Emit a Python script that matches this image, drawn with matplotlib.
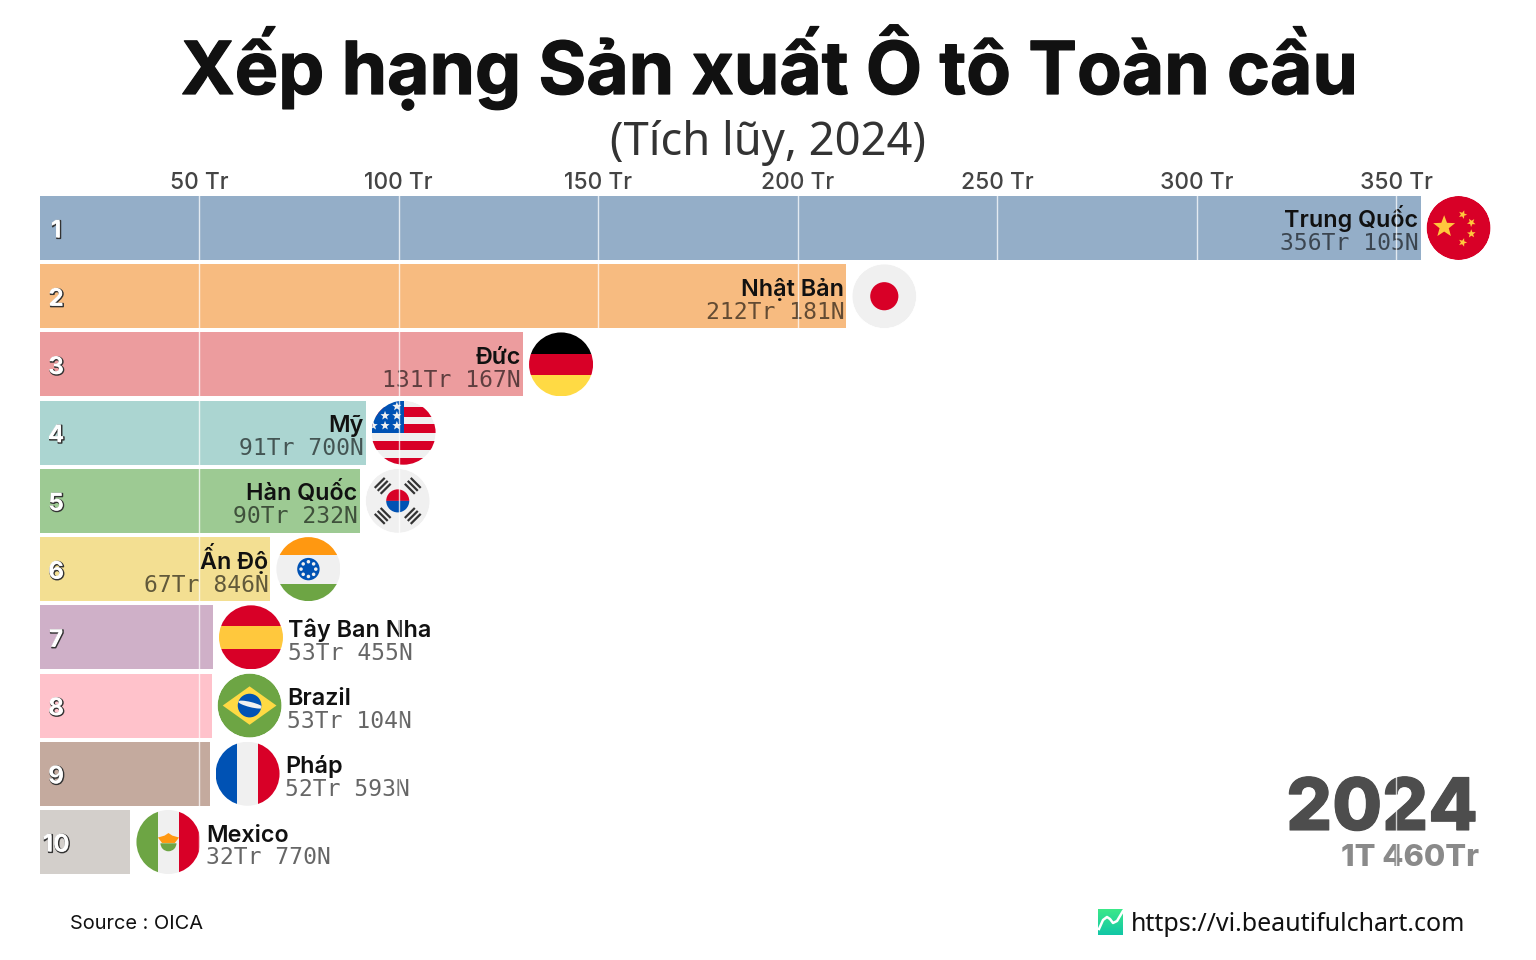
import numpy as np
import matplotlib
matplotlib.use('Agg')
import matplotlib.pyplot as plt
from matplotlib.patches import Circle, Rectangle, Polygon, Wedge, Ellipse
import matplotlib.patheffects as pe

plt.rcParams['font.family'] = ['Inter', 'Noto Sans', 'DejaVu Sans']

countries = ['Trung Quốc', 'Nhật Bản', 'Đức', 'Mỹ', 'Hàn Quốc', 'Ấn Độ',
             'Tây Ban Nha', 'Brazil', 'Pháp', 'Mexico']
flags = ['cn', 'jp', 'de', 'us', 'kr', 'in', 'es', 'br', 'fr', 'mx']
# values in million vehicles (Tr = triệu)
values = [356.105, 212.181, 131.167, 91.700, 90.232, 67.846,
          53.455, 53.104, 52.593, 32.770]
value_labels = ['356Tr 105N', '212Tr 181N', '131Tr 167N', '91Tr 700N', '90Tr 232N',
                '67Tr 846N', '53Tr 455N', '53Tr 104N', '52Tr 593N', '32Tr 770N']
bar_colors = ['#94aec8', '#f7bb80', '#ec9c9e', '#abd5d1', '#9dca93',
              '#f3df92', '#cfb0c8', '#ffc2cb', '#c4aa9e', '#d3cfcb']
ticks = [50, 100, 150, 200, 250, 300, 350]
tick_labels = ['50 Tr', '100 Tr', '150 Tr', '200 Tr', '250 Tr', '300 Tr', '350 Tr']

W, H = 1536, 960
PX_PER_TR = 3.99
PX_OFFSET = -0.3
ROW = 614 / 9


def to_px(v):
    return v * PX_PER_TR + PX_OFFSET


fig = plt.figure(figsize=(W / 100, H / 100), dpi=100, facecolor='white')
# axes: left edge 40 px, top 196 px, bottom 874 px
ax = fig.add_axes([40 / W, 1 - 874 / H, (W - 40) / W, (874 - 196) / H])
ax.set_xlim((40 - PX_OFFSET) / PX_PER_TR, (W - PX_OFFSET) / PX_PER_TR)
ax.set_ylim(10 + 32 / ROW, 1 - 32 / ROW)
ranks = np.arange(1, 11)
ax.barh(ranks, values, height=64 / ROW, color=bar_colors, zorder=1)
ax.set_xticks(ticks)
ax.set_xticklabels(tick_labels, fontsize=16.4, fontweight='medium', color='#444444')
ax.xaxis.tick_top()
ax.tick_params(axis='x', length=0, pad=1.6)
ax.set_yticks([])
for s in ax.spines.values():
    s.set_visible(False)
ax.patch.set_alpha(0)

# overlay in image pixels for the flags
ov = fig.add_axes([0, 0, 1, 1], zorder=1)
ov.set_xlim(0, W)
ov.set_ylim(H, 0)
ov.axis('off')


def draw_flag(code, cx, cy, r=32):
    clip = Circle((cx, cy), r, transform=ov.transData)

    def rect(x0, y0, x1, y1, c):
        p = Rectangle((cx + x0 * r, cy + y0 * r), (x1 - x0) * r, (y1 - y0) * r, color=c, lw=0)
        ov.add_patch(p)
        p.set_clip_path(clip)

    def circ(x0, y0, rr, c):
        p = Circle((cx + x0 * r, cy + y0 * r), rr * r, color=c, lw=0)
        ov.add_patch(p)
        p.set_clip_path(clip)

    def star(x0, y0, rr, c, rot=0):
        a = np.deg2rad(np.arange(10) * 36 - 90 + rot)
        rad = np.where(np.arange(10) % 2 == 0, rr, rr * 0.42)
        pts = np.column_stack((cx + (x0 + rad * np.cos(a)) * r, cy + (y0 + rad * np.sin(a)) * r))
        p = Polygon(pts, color=c, lw=0)
        ov.add_patch(p)
        p.set_clip_path(clip)

    red, white, navy = '#d80027', '#f0f0f0', '#0052b4'
    yellow, gold, green = '#ffda44', '#ffc83d', '#6da544'
    if code == 'cn':
        circ(0, 0, 1, red)
        star(-0.45, -0.04, 0.36, gold)
        for x0, y0, rot in [(0.13, -0.42, 20), (0.4, -0.17, 40), (0.4, 0.18, 70), (0.13, 0.45, 90)]:
            star(x0, y0, 0.14, gold, rot)
    elif code == 'jp':
        circ(0, 0, 1, white)
        circ(0, 0, 0.44, red)
    elif code == 'de':
        rect(-1, -1, 1, -0.34, '#000000')
        rect(-1, -0.34, 1, 0.34, red)
        rect(-1, 0.34, 1, 1, yellow)
    elif code == 'us':
        circ(0, 0, 1, white)
        for y0, y1 in [(-0.8, -0.5), (-0.26, 0), (0.26, 0.55), (0.79, 1)]:
            rect(-1, y0, 1, y1, red)
        rect(-1, -1, 0, 0, navy)
        for x0, y0 in [(-0.21, -0.82), (-0.58, -0.53), (-0.21, -0.53),
                       (-0.95, -0.22), (-0.58, -0.22), (-0.21, -0.22)]:
            star(x0, y0, 0.15, white)
    elif code == 'kr':
        circ(0, 0, 1, white)
        # y axis is inverted: 180-360 is the upper half
        ov.add_patch(Wedge((cx, cy), 0.36 * r, 180, 360, color=red, lw=0))
        ov.add_patch(Wedge((cx, cy), 0.36 * r, 0, 180, color=navy, lw=0))
        for sx, sy in [(-1, -1), (1, -1), (-1, 1), (1, 1)]:
            for k in (-0.13, 0, 0.13):
                mx = sx * (0.47 + k * 0.71)
                my = sy * (0.47 + k * 0.71)
                dx, dy = sy * 0.71 * 0.22, -sx * 0.71 * 0.22
                ov.plot([cx + (mx - dx) * r, cx + (mx + dx) * r],
                        [cy + (my - dy) * r, cy + (my + dy) * r],
                        color='#333333', lw=1.6, solid_capstyle='butt')
    elif code == 'in':
        rect(-1, -1, 1, -0.45, '#ff9811')
        rect(-1, -0.45, 1, 0.45, white)
        rect(-1, 0.45, 1, 1, green)
        circ(0, 0, 0.35, navy)
        for a in np.deg2rad(np.arange(0, 360, 45)):
            circ(0.23 * np.cos(a), 0.23 * np.sin(a), 0.055, white)
    elif code == 'es':
        rect(-1, -1, 1, -0.35, red)
        rect(-1, -0.35, 1, 0.36, gold)
        rect(-1, 0.36, 1, 1, red)
    elif code == 'br':
        circ(0, 0, 1, green)
        ov.add_patch(Polygon([(cx - 0.84 * r, cy), (cx, cy - 0.6 * r),
                              (cx + 0.84 * r, cy), (cx, cy + 0.6 * r)],
                             color=yellow, lw=0))
        circ(0, 0, 0.37, navy)
        p = Ellipse((cx + 0.03 * r, cy - 0.03 * r), 0.8 * r, 0.16 * r, angle=14, color=white, lw=0)
        ov.add_patch(p)
        p.set_clip_path(Circle((cx, cy), 0.37 * r, transform=ov.transData))
    elif code == 'fr':
        rect(-1, -1, -0.34, 1, navy)
        rect(-0.34, -1, 0.34, 1, white)
        rect(0.34, -1, 1, 1, red)
    elif code == 'mx':
        rect(-1, -1, -0.34, 1, green)
        rect(-0.34, -1, 0.34, 1, white)
        rect(0.34, -1, 1, 1, red)
        ov.add_patch(Wedge((cx, cy + 0.04 * r), 0.25 * r, 0, 180, color=green, lw=0))
        ov.add_patch(Polygon([(cx - 0.33 * r, cy - 0.14 * r), (cx - 0.12 * r, cy - 0.2 * r),
                              (cx, cy - 0.28 * r), (cx + 0.12 * r, cy - 0.2 * r),
                              (cx + 0.33 * r, cy - 0.14 * r), (cx + 0.2 * r, cy + 0.03 * r),
                              (cx - 0.2 * r, cy + 0.03 * r)],
                             color='#ff9811', lw=0))


for i, (name, val, lab, code) in enumerate(zip(countries, values, value_labels, flags)):
    end_px = to_px(val)
    cy = 196 + 32 + i * ROW
    draw_flag(code, end_px + 38, cy)
    # first six labels sit inside the bar, the rest after the flag
    if i < 6:
        tx, ha = end_px - 2, 'right'
    else:
        tx, ha = end_px + 75.5, 'left'
    ov.text(tx, cy - 0.5, name, fontsize=16.8, fontweight='semibold', color='#111111',
            ha=ha, va='baseline', zorder=5)
    ov.text(tx, cy + 22.5, lab, fontsize=16.6, family=['DejaVu Sans Mono'],
            color='black', alpha=0.6, ha=ha, va='baseline', zorder=5)
    ov.text(56, cy + 9.5, str(i + 1), fontsize=17.5, fontweight='bold', color='white',
            ha='center', va='baseline', zorder=5,
            path_effects=[pe.Stroke(linewidth=1.1, foreground='#333333', offset=(0.6, -0.6)),
                          pe.Normal()])

# title block
ov.text(769, 94, 'Xếp hạng Sản xuất Ô tô Toàn cầu', fontsize=52.6, fontweight='bold',
        color='#111111', ha='center', va='baseline',
        path_effects=[pe.withStroke(linewidth=0.9, foreground='#111111')])
ov.text(768, 155, '(Tích lũy, 2024)', fontsize=32.6, family=['Noto Sans'],
        color='#333333', ha='center', va='baseline')

# year and total
ov.text(1478, 830, '2024', fontsize=52, fontweight='heavy', color='#4d4d4d', ha='right', va='baseline', zorder=5,
        path_effects=[pe.withStroke(linewidth=0.8, foreground='#4d4d4d')])
ov.text(1479, 866, '1T 460Tr', fontsize=22.2, fontweight='heavy', color='#8a8a8a', ha='right', va='baseline', zorder=5)

# footer
ov.text(70, 929, 'Source : OICA', fontsize=14.4, color='#111111', ha='left', va='baseline')
ov.text(1131, 931, 'https://vi.beautifulchart.com', fontsize=18, family=['Noto Sans'],
        color='#111111', ha='left', va='baseline')
grad = np.linspace(0, 1, 25)[:, None]
logo = np.dstack([0.23 - 0.16 * grad, 0.91 - 0.13 * grad, 0.54 + 0.11 * grad])
ov.imshow(logo, extent=(1098, 1123, 935, 909), aspect='auto', zorder=3)
ov.set_xlim(0, W)
ov.set_ylim(H, 0)
ov.plot([1099, 1103, 1107, 1110, 1113, 1117, 1123], [929, 920, 917, 919, 923, 921, 911],
        color='white', lw=1.8, zorder=4)

# gridlines run over everything
for t in ticks:
    ov.plot([to_px(t)] * 2, [196, 874], color='white', lw=1, alpha=0.75, zorder=10)

fig.savefig('out.png', dpi=100)
